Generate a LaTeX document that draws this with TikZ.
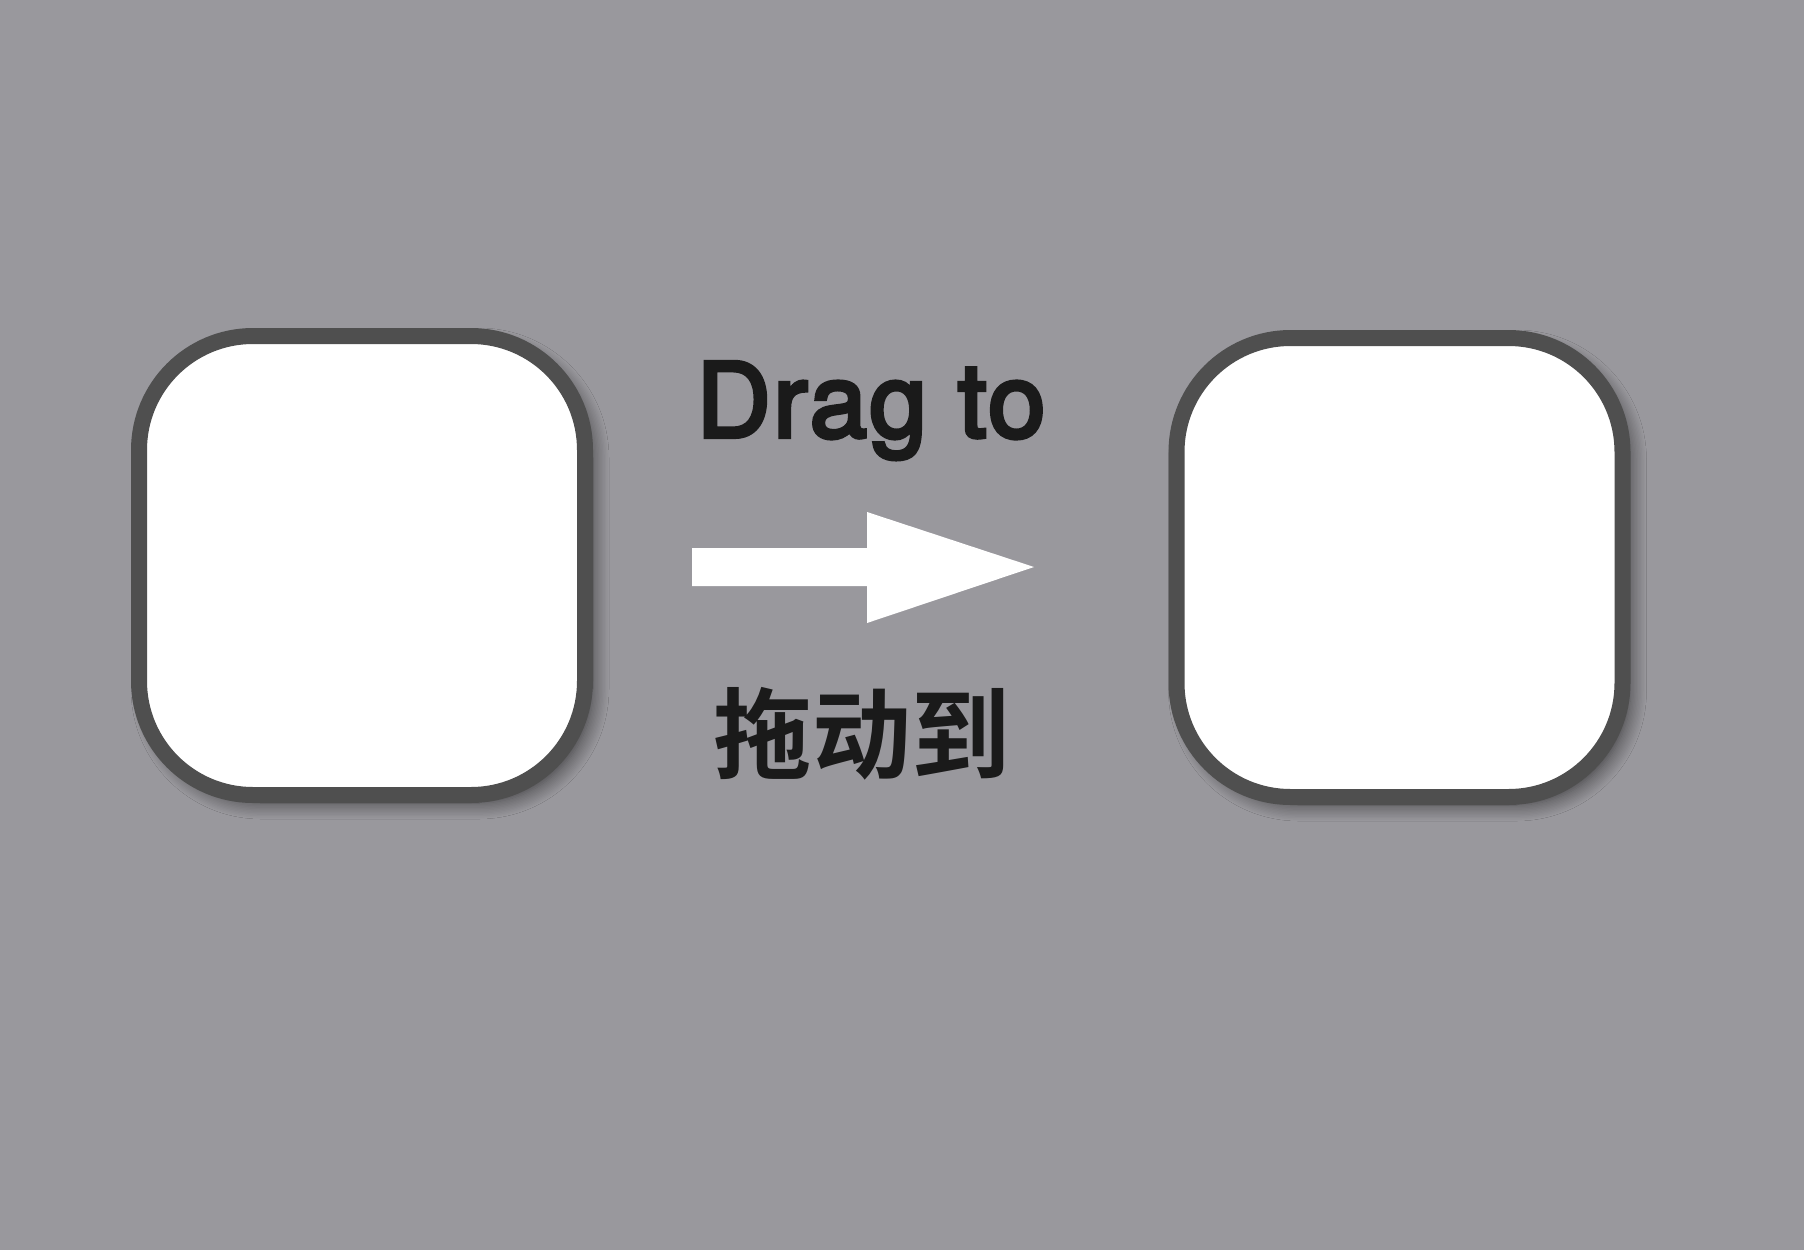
\documentclass[tikz,border=0pt]{standalone}
\usepackage{fontspec}
\setmainfont{TeX Gyre Heros}
\newfontfamily\enfont{TeX Gyre Heros}[FakeBold=4, LetterSpace=2.5]
\newfontfamily\cjk{Noto Sans CJK SC Bold}
\usetikzlibrary{shadows.blur}
\definecolor{bggray}{RGB}{153,152,157}
\definecolor{rimgray}{RGB}{79,79,79}
\definecolor{inkblack}{RGB}{26,26,26}

\begin{document}
\begin{tikzpicture}[
x=1pt, y=-1pt,
tile/.style={
  draw=rimgray,
  fill=white,
  line width=16pt,
  rounded corners=114pt,
  minimum width=446pt,
  minimum height=459pt,
  blur shadow={shadow xshift=8pt, shadow yshift=-8pt,
    shadow blur radius=16pt, shadow blur steps=12, shadow opacity=60}
  },
caption/.style={
  text=inkblack,
  inner sep=0pt,
  font=\enfont\fontsize{103}{110}\selectfont
  }
]
% background
\fill[bggray] (0,0) rectangle (1804,1250);
\useasboundingbox (0,0) rectangle (1804,1250);
% the two tiles
\node[tile] (src) at (362,565.5) {};
\node[tile] (dst) at (1399.5,567.5) {};
% labels
\node[caption, anchor=base] (en) at (871,437) {Drag to};
\node[caption, font=\cjk\fontsize{99}{110}\selectfont] (zh) at (862,734) {拖动到};
% block arrow
\coordinate (tail) at (692,567);
\coordinate (tip) at (1034,567);
\fill[white] (tail) ++(0,-19) -- ++(175,0) -- ++(0,-36) -- (tip)
  -- (867,623) -- ++(0,-37) -- ++(-175,0) -- cycle;
\end{tikzpicture}
\end{document}
